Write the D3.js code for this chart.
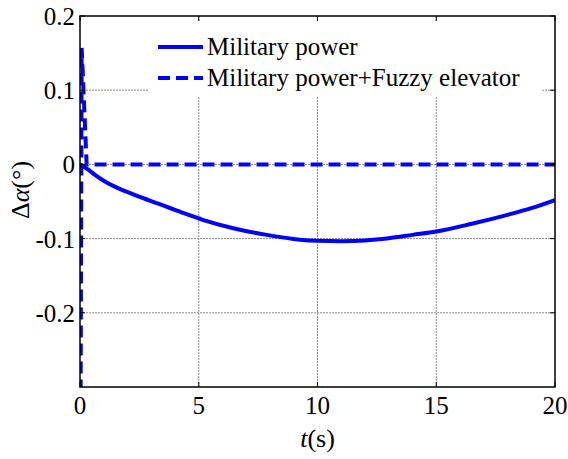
<!DOCTYPE html>
<html>
<head>
<meta charset="utf-8">
<script src="https://cdn.jsdelivr.net/npm/d3@7"></script>
<style>
  body { margin: 0; background: #fff; }
  text { font-family: 'Liberation Serif', 'Times New Roman', serif; fill: #000; }
</style>
</head>
<body>
<svg id="graph" width="568" height="459"></svg>
<script>
/*******************************************************************************************/
// Data

var xTicks = [0, 5, 10, 15, 20];
var yTicks = [-0.2, -0.1, 0, 0.1, 0.2];

var mil_t = [0, 0.3, 0.63, 1, 1.6, 2.3, 3.3, 4.3, 5.2, 6.45, 7.86, 9.26, 10, 11, 12, 13, 14, 15, 16.5, 18, 19, 20];
var mil_v = [0, -0.006, -0.014, -0.022, -0.032, -0.041, -0.053, -0.065, -0.075, -0.086, -0.095, -0.1015, -0.103, -0.1035, -0.1025, -0.0995, -0.095, -0.0905, -0.08, -0.068, -0.059, -0.048];

var fuzzy_t = [0.01, 0.07, 0.28, 5, 10, 15, 20];
var fuzzy_v = [-0.5, 0.157, 0, 0, 0, 0, 0];

var legendLabels = ['Military power', 'Military power+Fuzzy elevator'];

/*******************************************************************************************/
// Graph

var svg = d3.select('#graph');
var pLeft = 80, pRight = 555, pTop = 16, pBottom = 387;

var xScale = d3.scaleLinear().domain([0, 20]).range([pLeft, pRight]);
var yScale = d3.scaleLinear().domain([-0.3, 0.2]).range([pBottom, pTop]);

// grid
var grid = svg.append('g');
xTicks.slice(1, -1).forEach(function(t){
  grid.append('line').attr('x1', xScale(t)).attr('x2', xScale(t)).attr('y1', pTop).attr('y2', pBottom)
      .style('stroke', '#8a8a8a').style('stroke-width', 1).style('stroke-dasharray', '2,1');
});
yTicks.slice(0, -1).forEach(function(v){
  grid.append('line').attr('x1', pLeft).attr('x2', pRight).attr('y1', yScale(v)).attr('y2', yScale(v))
      .style('stroke', '#8a8a8a').style('stroke-width', 1).style('stroke-dasharray', '2,1');
});

// clip
svg.append('clipPath').attr('id', 'clip').append('rect')
   .attr('x', pLeft).attr('y', pTop).attr('width', pRight - pLeft).attr('height', pBottom - pTop);

var milData = mil_t.map((t, i) => ({ t: t, v: mil_v[i] }));
var fuzzyData = fuzzy_t.map((t, i) => ({ t: t, v: fuzzy_v[i] }));

svg.append('path').attr('clip-path', 'url(#clip)')
   .attr('d', d3.line().x(d => xScale(d.t)).y(d => yScale(d.v)).curve(d3.curveMonotoneX)(milData))
   .style('fill', 'none').style('stroke', '#0000ff').style('stroke-width', 4);

svg.append('path').attr('clip-path', 'url(#clip)')
   .attr('d', d3.line().x(d => xScale(d.t)).y(d => yScale(d.v))(fuzzyData))
   .style('fill', 'none').style('stroke', '#0000ff').style('stroke-width', 4).style('stroke-dasharray', '12,6');

// legend
var legend = svg.append('g');
legend.append('rect').attr('x', 148).attr('y', 22).attr('width', 393).attr('height', 75).style('fill', '#fff');
legendLabels.forEach(function(label, i){
  var y = 47 + i * 31;
  legend.append('line').attr('x1', 158).attr('x2', 203).attr('y1', y).attr('y2', y)
        .style('stroke', '#0000ff').style('stroke-width', 4).style('stroke-dasharray', i ? '12,6' : null);
  legend.append('text').attr('x', 207).attr('y', y + 8).style('font-size', '25px').text(label);
});

// box + ticks
svg.append('rect').attr('x', pLeft).attr('y', pTop).attr('width', pRight - pLeft).attr('height', pBottom - pTop)
   .style('fill', 'none').style('stroke', '#000').style('stroke-width', 1.5);

var ticks = svg.append('g');
xTicks.forEach(function(t){
  var x = xScale(t);
  ticks.append('line').attr('x1', x).attr('x2', x).attr('y1', pBottom).attr('y2', pBottom - 5).style('stroke', '#000');
  ticks.append('line').attr('x1', x).attr('x2', x).attr('y1', pTop).attr('y2', pTop + 5).style('stroke', '#000');
  ticks.append('text').attr('x', x).attr('y', pBottom + 27).style('font-size', '25px')
       .style('text-anchor', 'middle').text(t);
});
yTicks.forEach(function(v){
  var y = yScale(v);
  ticks.append('line').attr('x1', pLeft).attr('x2', pLeft + 5).attr('y1', y).attr('y2', y).style('stroke', '#000');
  ticks.append('line').attr('x1', pRight).attr('x2', pRight - 5).attr('y1', y).attr('y2', y).style('stroke', '#000');
  ticks.append('text').attr('x', pLeft - 5).attr('y', y + 9).style('font-size', '25px')
       .style('text-anchor', 'end').text(v === 0 ? '0' : d3.format('.1f')(v).replace('−', '-'));
});

// axis labels
var xl = svg.append('text').attr('x', xScale(10)).attr('y', 447).style('font-size', '26px').style('text-anchor', 'middle');
xl.append('tspan').style('font-style', 'italic').text('t');
xl.append('tspan').text('(s)');

var yl = svg.append('text').attr('transform', 'translate(' + 29 + ',' + 190 + ') rotate(-90)')
            .style('font-size', '26px').style('text-anchor', 'middle');
yl.append('tspan').text('Δ');
yl.append('tspan').style('font-style', 'italic').text('α');
yl.append('tspan').text('(°)');
</script>
</body>
</html>
